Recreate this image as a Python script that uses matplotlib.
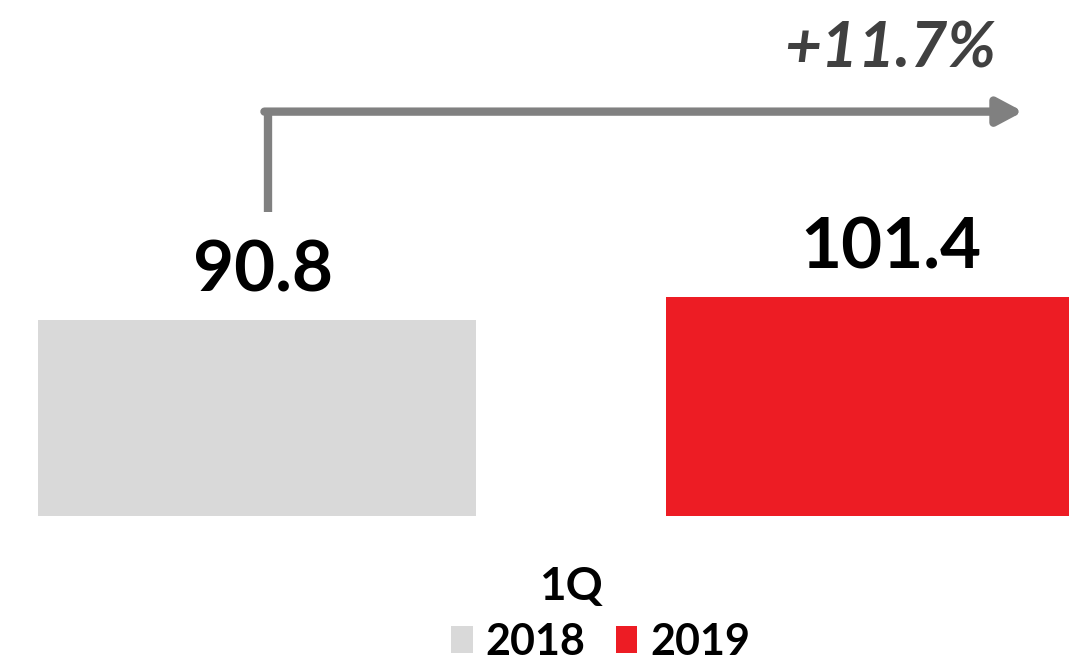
import matplotlib
matplotlib.use("Agg")
import matplotlib.pyplot as plt
from matplotlib.patches import Patch

# data
categories = ["1Q"]
years = ["2018", "2019"]
values = [90.8, 101.4]
growth_label = "+11.7%"
colors = ["#D9D9D9", "#ED1C24"]

plt.rcParams["font.family"] = ["Lato", "DejaVu Sans"]

fig = plt.figure(figsize=(10.69, 6.61), dpi=100)
ax = fig.add_axes([0, 145 / 661, 1, 516 / 661])

offsets = [-0.5, 0.5]
width = 0.697
for off, val, col, yr in zip(offsets, values, colors, years):
    ax.bar(off, val, width=width, color=col, label=yr)
    ax.annotate(f"{val:.1f}", xy=(off + 0.01, val), xytext=(0, 12), textcoords="offset points",
                ha="center", va="bottom", fontsize=51, fontweight="bold", color="black")

ax.set_xlim(-0.909, 0.793)
ax.set_ylim(0, 239)
ax.set_xticks([0])
ax.set_xticklabels(categories, fontsize=33, fontweight="bold")
ax.tick_params(axis="x", length=0, pad=36)
ax.set_yticks([])
for s in ax.spines.values():
    s.set_visible(False)

# growth arrow: up from the 2018 label, across past the 2019 bar
ax_x0 = offsets[0] + 0.018
y_lo = values[0] + 50
y_hi = values[0] + 96.5
ax.plot([ax_x0, ax_x0], [y_lo, y_hi], color="#808080", lw=6, solid_capstyle="butt", clip_on=False)
ax.annotate("", xy=(0.72, y_hi), xytext=(ax_x0 - 0.006, y_hi),
            arrowprops=dict(arrowstyle="-|>,head_length=1.5,head_width=0.8",
                            color="#808080", lw=6, shrinkA=0, shrinkB=0))
ax.text(0.508, y_hi + 16, growth_label, ha="center", va="bottom", fontsize=46,
        fontweight="bold", fontstyle="italic", color="#404040")

handles = [Patch(facecolor=c, edgecolor="none") for c in colors]
fig.legend(handles, years, loc="upper center", bbox_to_anchor=(0.562, 0.092), ncol=2,
           frameon=False, prop=dict(size=31, weight="bold"), handlelength=0.5,
           handleheight=0.6, handletextpad=0.3, columnspacing=0.7, borderpad=0)

fig.savefig("out.png", dpi=100)
